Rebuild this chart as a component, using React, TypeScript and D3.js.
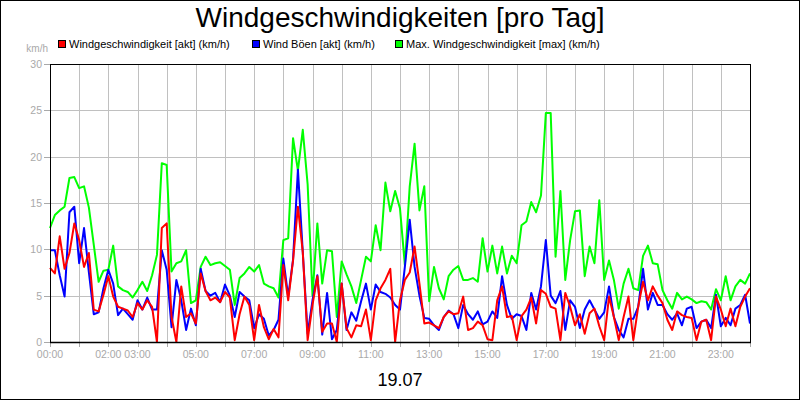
import React from "react";
import * as d3 from "d3";

// chart texts
const title = "Windgeschwindigkeiten [pro Tag]";
const dateLabel = "19.07";
const unitLabel = "km/h";
const seriesNames = [
  "Windgeschwindigkeit [akt] (km/h)",
  "Wind Böen [akt] (km/h)",
  "Max. Windgeschwindigkeit [max] (km/h)",
];
const seriesColors = ["#ff0000", "#0000ff", "#00ff00"];
const xTickHours = [0, 2, 3, 5, 7, 9, 11, 13, 15, 17, 19, 21, 23];
const yTicks = [0, 5, 10, 15, 20, 25, 30];
const stepMinutes = 10; // one reading every 10 min, 00:00 .. 24:00

// Windgeschwindigkeit [akt]
const windAkt = [
  8.0, 7.4, 11.4, 7.9, 9.6, 12.8, 11.0, 8.1, 9.6, 3.5,
  3.3, 5.1, 7.1, 4.9, 3.8, 3.6, 3.4, 2.7, 4.2, 3.5,
  4.5, 3.8, 0.0, 12.3, 12.8, 2.7, 0.0, 6.0, 2.7, 3.1,
  2.0, 7.4, 5.5, 4.5, 4.8, 4.3, 5.4, 4.8, 0.2, 3.0,
  4.9, 4.0, 0.2, 4.0, 1.6, 0.3, 1.4, 0.5, 8.3, 4.5,
  8.8, 14.6, 9.7, 0.2, 4.0, 7.1, 1.1, 2.0, 2.0, 0.0,
  6.3, 1.5, 0.5, 1.8, 1.7, 3.5, 0.2, 4.5, 5.8, 6.7,
  7.9, 0.0, 4.5, 6.7, 7.5, 10.3, 6.3, 2.0, 2.1, 1.8,
  1.5, 2.7, 3.3, 3.0, 3.1, 4.9, 1.3, 1.5, 2.2, 1.8,
  0.3, 0.2, 4.5, 6.0, 2.7, 2.8, 0.2, 2.8, 3.5, 4.8,
  2.0, 5.6, 5.2, 3.8, 3.6, 0.2, 5.3, 3.8, 1.8, 3.0,
  0.9, 3.1, 3.6, 1.7, 0.2, 4.9, 2.7, 0.2, 2.7, 4.9,
  0.2, 3.8, 6.5, 4.5, 6.0, 5.0, 4.2, 2.4, 1.3, 3.3,
  2.9, 2.7, 2.6, 0.2, 2.2, 2.4, 0.2, 4.9, 3.5, 1.7,
  3.6, 1.7, 3.8, 4.9, 5.8,
];

// Wind Böen [akt]
const windBoeen = [
  9.9, 9.9, 7.2, 4.9, 14.0, 14.6, 8.5, 12.3, 7.5, 3.0,
  3.2, 5.8, 7.8, 6.3, 2.9, 3.6, 3.0, 2.4, 4.5, 3.5,
  4.8, 3.5, 3.5, 9.9, 7.8, 1.6, 6.7, 4.5, 1.3, 3.6,
  1.8, 7.9, 5.5, 5.0, 5.3, 4.3, 6.2, 5.0, 2.7, 5.4,
  4.9, 4.5, 1.5, 3.0, 2.5, 0.7, 1.3, 2.4, 9.0, 4.9,
  8.9, 18.6, 9.7, 0.9, 4.5, 7.2, 0.8, 5.3, 0.3, 1.3,
  6.3, 1.3, 3.2, 2.3, 4.4, 6.3, 3.5, 6.2, 5.4, 5.2,
  4.8, 4.0, 3.5, 8.1, 13.2, 8.1, 5.0, 2.6, 2.5, 1.8,
  1.3, 2.7, 3.4, 3.0, 1.5, 4.0, 3.0, 2.4, 3.3, 1.9,
  2.2, 3.3, 2.6, 7.1, 4.0, 2.5, 3.0, 2.8, 1.3, 5.3,
  3.5, 6.0, 11.0, 5.0, 4.2, 5.5, 1.3, 4.5, 3.8, 1.5,
  3.5, 4.5, 3.5, 2.5, 3.2, 6.0, 2.7, 1.3, 0.5, 2.5,
  2.5, 3.8, 7.9, 3.5, 5.3, 4.0, 4.0, 3.0, 2.4, 3.1,
  1.8, 3.6, 3.8, 1.5, 2.2, 2.4, 1.5, 5.1, 1.7, 2.6,
  1.8, 3.6, 4.0, 5.1, 2.0,
];

// Max. Windgeschwindigkeit [max]
const windMax = [
  12.3, 13.7, 14.2, 14.6, 17.7, 17.8, 16.6, 16.8, 14.5, 10.5,
  6.5, 7.7, 7.8, 10.4, 6.0, 5.6, 5.4, 4.8, 5.6, 6.5,
  5.5, 7.2, 9.4, 19.3, 19.1, 7.6, 8.5, 8.7, 9.9, 4.2,
  4.5, 8.1, 9.2, 8.3, 8.5, 8.6, 8.2, 7.8, 4.0, 6.9,
  7.4, 8.1, 7.6, 8.3, 6.3, 6.0, 5.8, 4.8, 11.0, 11.2,
  22.0, 18.5, 22.9, 17.0, 5.0, 12.8, 6.3, 9.9, 9.8, 2.7,
  8.7, 7.3, 6.0, 4.2, 6.7, 9.2, 8.7, 12.6, 9.9, 17.2,
  14.1, 16.3, 14.4, 8.3, 16.8, 21.4, 14.2, 16.8, 4.4, 8.1,
  5.8, 4.6, 7.1, 7.8, 8.2, 6.7, 6.7, 6.9, 6.5, 11.2,
  7.6, 10.4, 7.4, 10.3, 7.4, 9.3, 8.5, 12.6, 13.0, 15.1,
  14.0, 15.8, 24.7, 24.7, 9.2, 16.3, 6.7, 11.0, 14.1, 14.2,
  7.1, 10.3, 8.5, 15.3, 6.7, 8.8, 6.7, 3.6, 6.3, 7.9,
  5.8, 5.6, 9.3, 10.4, 8.5, 8.4, 5.6, 4.5, 3.6, 5.3,
  4.6, 4.9, 4.6, 4.2, 4.4, 4.3, 3.5, 5.7, 4.5, 7.1,
  4.5, 6.0, 6.7, 6.3, 7.4,
];

const font = "'Liberation Sans', Arial, Helvetica, sans-serif";
const axisGray = "#a9a9a9";
const gridGray = "#c0c0c0";

export default function App() {
  const width = 800;
  const height = 400;
  const left = 50, right = 750, top = 64, bottom = 342;

  const x = d3.scaleLinear().domain([0, 24 * 60]).range([left, right]);
  const y = d3.scaleLinear().domain([0, 30]).range([bottom, top]);

  const line = d3
    .line<number>()
    .x((d, i) => x(i * stepMinutes))
    .y((d) => y(d));

  const series = [windMax, windBoeen, windAkt]; // draw order: max below, akt on top
  const seriesColorOrder = [seriesColors[2], seriesColors[1], seriesColors[0]];

  const hourLines = d3.range(1, 24);
  const legendX = [58, 252, 395];

  const pad = (h: number) => (h < 10 ? "0" + h : "" + h) + ":00";

  return (
    <svg
      width={width}
      height={height}
      style={{ position: "absolute", left: 0, top: 0, background: "#fff" }}
      fontFamily={font}
    >
      <rect x={0.5} y={0.5} width={width - 1} height={height - 1} fill="#fff" stroke="#000" />

      <text x={400} y={27} textAnchor="middle" fontSize={28} fill="#000">
        {title}
      </text>

      {/* legend */}
      {seriesNames.map((name, i) => (
        <g key={name}>
          <rect x={legendX[i] + 0.5} y={40.5} width={7} height={7} fill={seriesColors[i]} stroke="#000" />
          <text x={legendX[i] + 11} y={48} fontSize={11} fill="#000">
            {name}
          </text>
        </g>
      ))}

      {/* grid */}
      {hourLines.map((h) => (
        <line key={"v" + h} x1={Math.round(x(h * 60)) + 0.5} x2={Math.round(x(h * 60)) + 0.5} y1={top} y2={bottom} stroke={gridGray} />
      ))}
      {yTicks.filter((t) => t > 0 && t < 30).map((t) => (
        <line key={"h" + t} x1={left} x2={right} y1={Math.round(y(t)) + 0.5} y2={Math.round(y(t)) + 0.5} stroke={gridGray} />
      ))}

      {/* y axis */}
      <text x={48} y={52} textAnchor="end" fontSize={10} fill={axisGray}>
        {unitLabel}
      </text>
      {yTicks.map((t) => (
        <g key={"y" + t}>
          <line x1={44} x2={left} y1={Math.round(y(t)) + 0.5} y2={Math.round(y(t)) + 0.5} stroke={axisGray} />
          <text x={42} y={y(t) + 4} textAnchor="end" fontSize={10.5} fill={axisGray}>
            {t}
          </text>
        </g>
      ))}

      {/* x axis */}
      {d3.range(0, 25).map((h) => (
        <line key={"xt" + h} x1={Math.round(x(h * 60)) + 0.5} x2={Math.round(x(h * 60)) + 0.5} y1={bottom} y2={bottom + 5} stroke={axisGray} />
      ))}
      {xTickHours.map((h) => (
        <text key={"xl" + h} x={x(h * 60)} y={358} textAnchor="middle" fontSize={10.5} fill={axisGray}>
          {pad(h)}
        </text>
      ))}

      {/* series */}
      {series.map((vals, k) => (
        <path
          key={"s" + k}
          d={line(vals) || ""}
          fill="none"
          stroke={seriesColorOrder[k]}
          strokeWidth={2}
          strokeLinejoin="round"
        />
      ))}

      <rect x={left + 0.5} y={top + 0.5} width={right - left} height={bottom - top} fill="none" stroke="#000" />
      <line x1={left} x2={right + 1} y1={bottom + 0.5} y2={bottom + 0.5} stroke="#000" strokeWidth={1.5} />

      <text x={400} y={386} textAnchor="middle" fontSize={18} fill="#000">
        {dateLabel}
      </text>
    </svg>
  );
}
